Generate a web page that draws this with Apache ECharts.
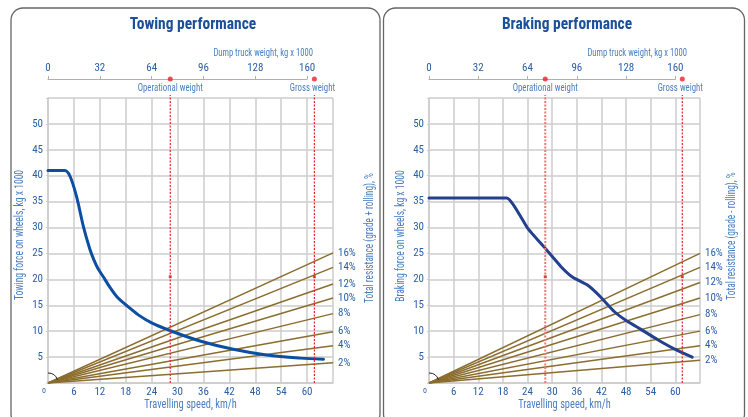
<!DOCTYPE html>
<html>
<head>
<meta charset="utf-8">
<script src="https://cdn.jsdelivr.net/npm/echarts@6/dist/echarts.min.js"></script>
<style>html,body{margin:0;padding:0;background:#fff}#c{width:748px;height:417px}</style>
</head>
<body>
<div id="c"></div>
<script>
// ---------- data ----------
const speedMax = 66;            // km/h, right edge of grid
const forceMax = 55;            // kg x 1000, top edge of grid
const weightTickMax = 160;      // kg x 1000 at 60 km/h position
const speedAtWeightMax = 60;

const towSpeed = [0, 3.9, 5.1, 6.6, 8.2, 9.7, 10.6, 11.5, 12.8, 14.4, 16.0, 18.0, 21.0, 24.0, 28.3, 35.2, 42.9, 50.6, 58.4, 63.8];
const towForce = [41, 41, 39.9, 36.0, 30.2, 25.8, 23.8, 22.2, 20.5, 18.4, 16.6, 15.1, 13.1, 11.6, 10.1, 8.1, 6.5, 5.4, 4.8, 4.6];

const brakeSpeed = [0, 18.9, 24.0, 28.4, 32.1, 35.0, 38.6, 41.8, 45.1, 48.3, 51.5, 55.6, 59.7, 64.1];
const brakeForce = [35.7, 35.7, 29.9, 25.9, 22.5, 20.4, 18.9, 16.6, 13.8, 11.9, 10.4, 8.4, 6.6, 5.0];

const gradeLabels = ['2%', '4%', '6%', '8%', '10%', '12%', '14%', '16%'];
const towGradeEnd = [3.9, 7.2, 9.9, 13.4, 16.4, 19.1, 22.3, 25.1];
const brakeGradeEnd = [4.4, 7.2, 10.0, 13.2, 16.4, 19.4, 22.3, 25.0];

const weightNames = ['Operational weight', 'Gross weight'];
const weightValues = [75.5, 164.5];
const weightMarkForce = [20.5, 20.5];
const dashTop = 55.6;

const speedTicks = 6, forceTicks = 5, weightTicks = 32;

// ---------- style ----------
const FONT = "'Noto Sans Condensed','Roboto Condensed','Open Sans Condensed','Liberation Sans Narrow','DejaVu Sans Condensed',sans-serif";
const BLUE = '#2a5fa6';
const NAME_BLUE = '#4a7fc1';
const GRID_C = '#cccccc';
const GRADE_C = '#8b6d2e';

const panels = [
  { title: 'Towing performance', yName: 'Towing force on wheels, kg x 1000',
    rName: 'Total resistance (grade + rolling), %', sx: towSpeed, sy: towForce,
    grades: towGradeEnd, left: 48, width: 285, titleX: 193, wTitleX: 313,
    yNameX: 20, yNameY: 235, rNameX: 370, rNameY: 238,
    curveColor: '#0b4ea2', smooth: 0.35, opColor: '#e8202a', opWidth: 1.2 },
  { title: 'Braking performance', yName: 'Braking force on wheels, kg x 1000',
    rName: 'Total resistance (grade - rolling), %', sx: brakeSpeed, sy: brakeForce,
    grades: brakeGradeEnd, left: 429, width: 271, titleX: 567, wTitleX: 687,
    yNameX: 401, yNameY: 236, rNameX: 732, rNameY: 236,
    curveColor: '#233f8f', smooth: 0.15, opColor: '#f07878', opWidth: 2 }
];
const plotTop = 98, plotH = 285, weightAxisY = 79;
const weightGridH = plotTop + plotH - weightAxisY;
const weightYMax = forceMax * weightGridH / plotH;

const grid = [], xAxis = [], yAxis = [], series = [], graphic = [];
const txt = (x, y, text, size, color, opt) => Object.assign({
  type: 'text', x, y, silent: true, z: 20,
  style: { text, align: 'center', verticalAlign: 'middle', font: size + 'px ' + FONT, fill: color }
}, opt || {});

panels.forEach((p, i) => {
  const g0 = grid.length;
  grid.push({ left: p.left, top: plotTop, width: p.width, height: plotH });
  grid.push({ left: p.left, top: weightAxisY, width: p.width * speedAtWeightMax / speedMax, height: weightGridH });
  const xi = xAxis.length, yi = yAxis.length;
  xAxis.push({
    type: 'value', gridIndex: g0, min: 0, max: speedMax, interval: speedTicks,
    axisLine: { show: true, onZero: false, lineStyle: { color: GRID_C, width: 1.5 } },
    axisTick: { show: false },
    axisLabel: { color: BLUE, fontSize: 11, margin: 4, fontFamily: FONT,
      formatter: v => v === 0 ? '{z|0}' : (v === speedMax ? '' : String(v)),
      rich: { z: { fontSize: 8, color: BLUE, padding: [0, 8, 0, 0], fontFamily: FONT } } },
    splitLine: { show: true, lineStyle: { color: GRID_C, width: 1.5 } }
  });
  xAxis.push({
    type: 'value', gridIndex: g0 + 1, position: 'top', min: 0, max: weightTickMax, interval: weightTicks,
    axisLine: { show: true, onZero: false, lineStyle: { color: '#b0b0b0', width: 1.2 } },
    axisTick: { show: true, length: 3, lineStyle: { color: '#b0b0b0' } },
    axisLabel: { color: BLUE, fontSize: 11, margin: 5, fontFamily: FONT },
    splitLine: { show: false }
  });
  yAxis.push({
    type: 'value', gridIndex: g0, min: 0, max: forceMax, interval: forceTicks,
    axisLine: { show: true, lineStyle: { color: GRID_C, width: 1.5 } },
    axisTick: { show: true, length: 2, lineStyle: { color: GRID_C } },
    axisLabel: { color: BLUE, fontSize: 11, margin: 5, fontFamily: FONT,
      formatter: v => (v === 0 || v === forceMax) ? '' : String(v) },
    splitLine: { show: true, lineStyle: { color: GRID_C, width: 1.5 } }
  });
  yAxis.push({ type: 'value', gridIndex: g0 + 1, min: 0, max: weightYMax, show: false, splitLine: { show: false } });

  // grade lines
  p.grades.forEach((v, k) => {
    series.push({
      type: 'line', xAxisIndex: xi, yAxisIndex: yi, silent: true, symbol: 'none',
      data: [[0, 0], [speedMax, v]],
      lineStyle: { color: GRADE_C, width: 1.4 },
      endLabel: { show: true, formatter: () => gradeLabels[k], color: BLUE, fontSize: 11, distance: 5, fontFamily: FONT },
      z: 3
    });
  });
  // force curve
  series.push({
    type: 'line', xAxisIndex: xi, yAxisIndex: yi, symbol: 'none', smooth: p.smooth,
    data: p.sx.map((s, k) => [s, p.sy[k]]),
    lineStyle: { color: p.curveColor, width: 3, cap: 'round' }, z: 5
  });
  // weight markers: dashed verticals (custom, through the axis scales)
  series.push({
    type: 'custom', xAxisIndex: xi + 1, yAxisIndex: yi + 1, clip: false, silent: true, z: 6,
    data: weightValues.map((w, k) => [w, 0, dashTop, k]),
    renderItem: (params, api) => {
      const k = api.value(3);
      const a = api.coord([api.value(0), api.value(1)]);
      const b = api.coord([api.value(0), api.value(2)]);
      return { type: 'line', shape: { x1: a[0], y1: a[1], x2: b[0], y2: b[1] },
        style: { stroke: k === 0 ? p.opColor : '#e8202a', lineWidth: k === 0 ? p.opWidth : 1.2, lineDash: [2, 1.5] } };
    }
  });
  series.push({
    type: 'scatter', xAxisIndex: xi + 1, yAxisIndex: yi + 1, clip: false, silent: true,
    symbol: 'rect', symbolSize: 3, data: weightValues.map((w, k) => [w, weightMarkForce[k]]),
    itemStyle: { color: '#e8202a' }, z: 7
  });
  series.push({
    type: 'scatter', xAxisIndex: xi + 1, yAxisIndex: yi + 1, clip: false, silent: true,
    symbol: 'circle', symbolSize: 5, data: weightValues.map(w => [w, weightYMax]),
    itemStyle: { color: '#e8202a' }, z: 7
  });

  // panel frame and texts
  graphic.push({ type: 'rect', shape: { x: i === 0 ? 11 : 383.5, y: 8, width: i === 0 ? 369 : 361, height: 418, r: 12 },
    style: { fill: null, stroke: '#666', lineWidth: 1.3 }, silent: true, z: 0 });
  graphic.push(txt(p.titleX, 25, p.title, 17, '#1a4f9a', { scaleX: 0.91 }));
  graphic.children;
  graphic[graphic.length - 1].style.font = 'bold 17px ' + FONT;
  graphic.push(txt(p.wTitleX, 53, 'Dump truck weight, kg x 1000', 11, NAME_BLUE, { scaleX: 0.78 }));
  graphic[graphic.length - 1].style.align = 'right';
  const cx = p.left + p.width / 2;
  graphic.push(txt(cx, 405, 'Travelling speed, km/h', 13, NAME_BLUE, { scaleX: 0.8 }));
  graphic.push(txt(p.yNameX, p.yNameY, p.yName, 13, NAME_BLUE, { rotation: Math.PI / 2, scaleX: 0.74 }));
  graphic.push(txt(p.rNameX, p.rNameY, p.rName, 13, NAME_BLUE, { rotation: Math.PI / 2, scaleX: 0.72 }));
});

const chart = echarts.init(document.getElementById('c'), null, { renderer: 'canvas' });
chart.setOption({ animation: false, backgroundColor: '#fff', textStyle: { fontFamily: FONT }, grid, xAxis, yAxis, series, graphic });

// decorations placed through the axis scales: origin angle arcs and weight labels
const extra = [];
panels.forEach((p, i) => {
  const o = chart.convertToPixel({ gridIndex: i * 2 }, [0, 0]);
  extra.push({ type: 'arc', shape: { cx: o[0], cy: o[1], r: 10, startAngle: -Math.PI / 2, endAngle: -0.32 },
    style: { fill: null, stroke: '#222', lineWidth: 1 }, silent: true, z: 10 });
  weightValues.forEach((w, k) => {
    const d = chart.convertToPixel({ xAxisIndex: i * 2 + 1, yAxisIndex: i * 2 + 1 }, [w, weightYMax]);
    extra.push(txt(d[0] - (k === 1 ? 2 : 0), d[1] + 9, weightNames[k], 11, NAME_BLUE, { scaleX: 0.8 }));
  });
});
chart.setOption({ graphic: graphic.concat(extra) });
</script>
</body>
</html>
